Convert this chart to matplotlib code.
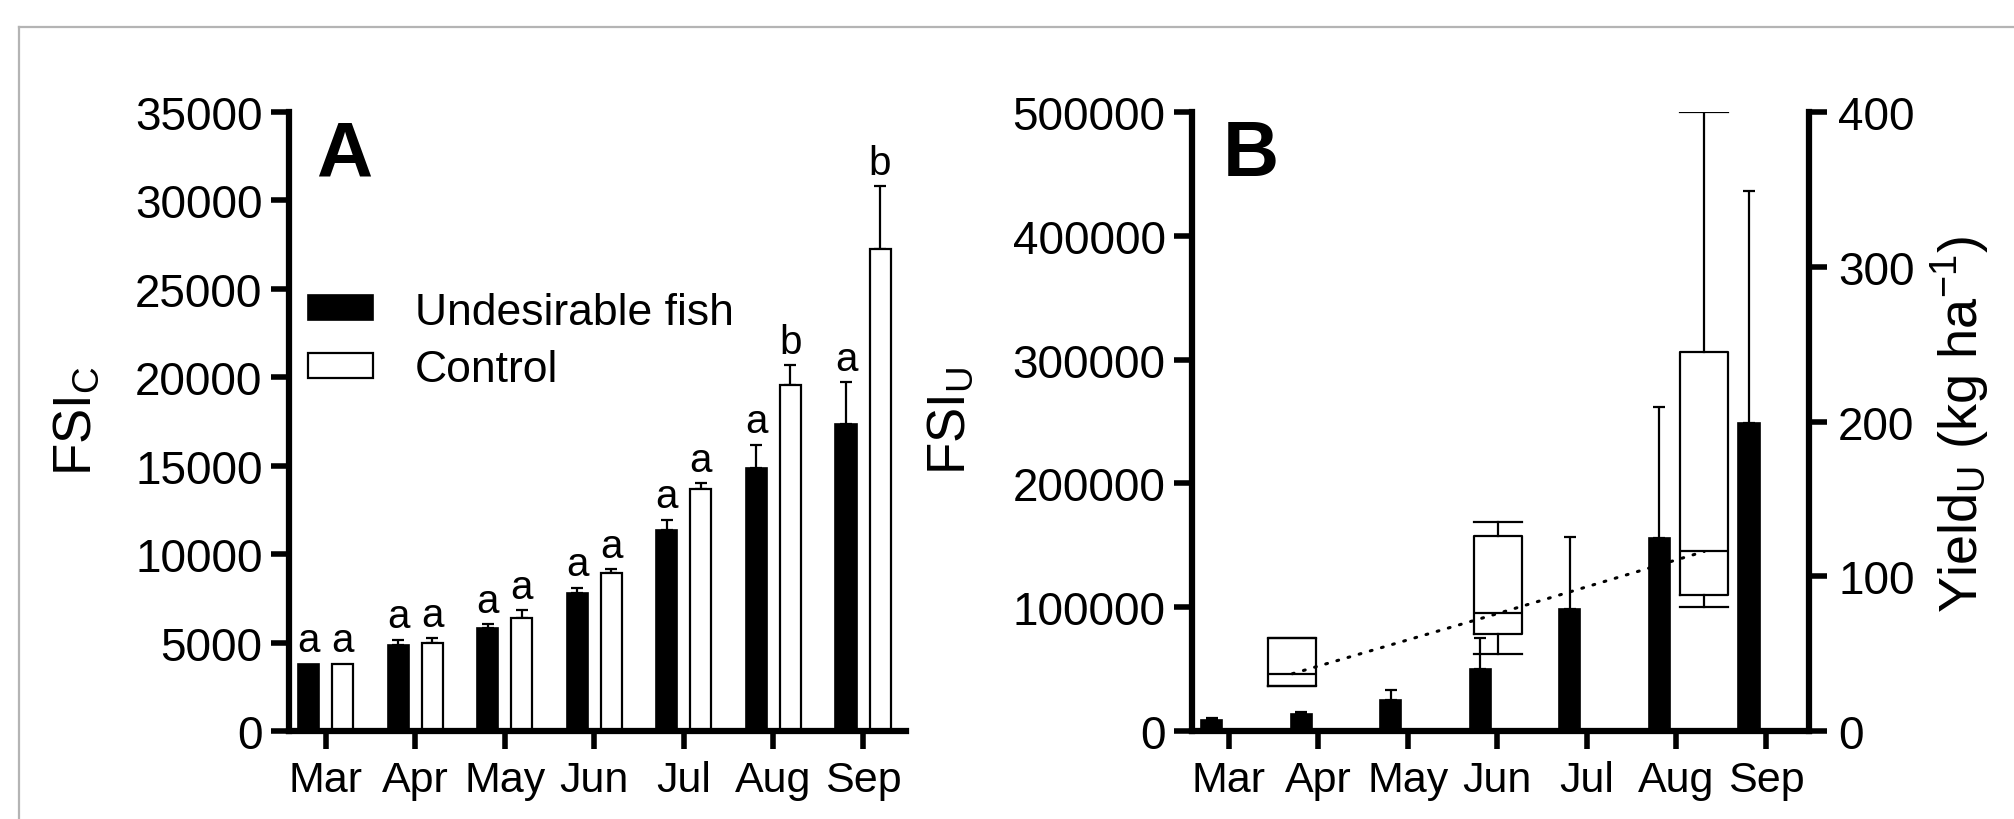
import matplotlib
matplotlib.use("Agg")
import matplotlib.pyplot as plt
from matplotlib.patches import Patch
from matplotlib.lines import Line2D
import numpy as np

plt.rcParams['font.family'] = ['Liberation Sans', 'DejaVu Sans']
plt.rcParams['mathtext.fontset'] = 'custom'
plt.rcParams['mathtext.rm'] = 'Liberation Sans'
plt.rcParams['mathtext.it'] = 'Liberation Sans:italic'
plt.rcParams['mathtext.bf'] = 'Liberation Sans:bold'

# ---------------- data ----------------
months = ["Mar", "Apr", "May", "Jun", "Jul", "Aug", "Sep"]

# Panel A: FSI_C
fsic_undesirable = [3800, 4870, 5810, 7800, 11350, 14860, 17370]
fsic_undesirable_err = [0, 280, 240, 300, 590, 1330, 2360]
fsic_control = [3800, 4950, 6370, 8950, 13710, 19560, 27270]
fsic_control_err = [0, 300, 450, 190, 300, 1120, 3540]
letters_undesirable = ["a", "a", "a", "a", "a", "a", "a"]
letters_control = ["a", "a", "a", "a", "a", "b", "b"]

# Panel B: FSI_U bars
fsiu = [9200, 13500, 24750, 50000, 98400, 156200, 248600]
fsiu_err = [1300, 2200, 8650, 24900, 58600, 105800, 187900]

# Panel B: Yield_U boxes (kg ha-1)
yield_months = ["Apr", "Jun", "Aug"]
yield_min = [29, 50, 80]
yield_q1 = [29, 63, 88]
yield_med = [37, 76, 116]
yield_q3 = [60, 126, 245]
yield_max = [60, 135, 400]

# ---------------- layout ----------------
W, H = 2014, 820
fig = plt.figure(figsize=(W / 100, H / 100), dpi=100)

def ax_rect(l, r, t, b):
    return [l / W, 1 - b / H, (r - l) / W, (b - t) / H]

axA = fig.add_axes(ax_rect(289, 906, 113, 732))
axB = fig.add_axes(ax_rect(1192, 1809, 113, 732))

SP_LW = 4.5
YTICK_FS = 33
XTICK_FS = 31
x = np.arange(len(months))
bw = 0.235
off = 0.19
XLIM = (-0.41, 6.48)

def style_axis(ax):
    for s in ["top", "right"]:
        ax.spines[s].set_visible(False)
    for s in ["left", "bottom"]:
        ax.spines[s].set_linewidth(SP_LW)
        ax.spines[s].set_capstyle('projecting')
    ax.tick_params(axis='both', which='major', length=13, width=4, direction='out')
    ax.tick_params(axis='y', pad=6, labelsize=YTICK_FS)
    ax.tick_params(axis='x', pad=8, labelsize=XTICK_FS)
    ax.set_xticks(x)
    ax.set_xticklabels(months)
    ax.set_xlim(*XLIM)

def add_err(ax, xs, ys, errs):
    xs = np.asarray(xs, float); ys = np.asarray(ys, float); errs = np.asarray(errs, float)
    m = errs > 0
    ax.errorbar(xs[m], ys[m], yerr=[np.zeros(m.sum()), errs[m]], fmt='none',
                ecolor='black', elinewidth=1.6, capsize=4.5, capthick=1.6, zorder=1)

# ---- Panel A ----
style_axis(axA)
axA.bar(x - off, fsic_undesirable, width=bw, color='black', edgecolor='black',
        linewidth=1.2, zorder=2, label="Undesirable fish")
axA.bar(x + off, fsic_control, width=bw, color='white', edgecolor='black',
        linewidth=1.6, zorder=2, label="Control")
add_err(axA, x - off, fsic_undesirable, fsic_undesirable_err)
add_err(axA, x + off, fsic_control, fsic_control_err)
for i in range(len(months)):
    axA.annotate(letters_undesirable[i], (x[i] - off, fsic_undesirable[i] + fsic_undesirable_err[i]),
                 xytext=(0, 9), textcoords='offset points', ha='center', va='baseline', fontsize=29)
    axA.annotate(letters_control[i], (x[i] + off, fsic_control[i] + fsic_control_err[i]),
                 xytext=(0, 9), textcoords='offset points', ha='center', va='baseline', fontsize=29)
axA.set_ylim(0, 35000)
axA.set_yticks(np.arange(0, 35001, 5000))
axA.text(0.044, 0.99, "A", transform=axA.transAxes, fontsize=56, fontweight='bold',
         ha='left', va='top')
handles = [Patch(facecolor='black', edgecolor='black', linewidth=1.2),
           Patch(facecolor='white', edgecolor='black', linewidth=1.6)]
axA.legend(handles, ["Undesirable fish", "Control"], loc='center left',
           bbox_to_anchor=(0.031, 0.630), frameon=False, fontsize=32,
           handlelength=1.45, handleheight=0.5, handletextpad=0.95,
           labelspacing=0.38, borderpad=0, borderaxespad=0)

# ---- Panel B ----
style_axis(axB)
axB.bar(x - off, fsiu, width=bw, color='black', edgecolor='black', linewidth=1.2, zorder=2)
add_err(axB, x - off, fsiu, fsiu_err)
axB.set_ylim(0, 500000)
axB.set_yticks(np.arange(0, 500001, 100000))
axB.text(0.050, 0.99, "B", transform=axB.transAxes, fontsize=56, fontweight='bold',
         ha='left', va='top')

axY = axB.twinx()
axY.set_ylim(0, 400)
axY.set_yticks([0, 100, 200, 300, 400])
for s in ["top", "left", "bottom"]:
    axY.spines[s].set_visible(False)
axY.spines["right"].set_linewidth(SP_LW)
axY.tick_params(axis='y', length=13, width=4, labelsize=YTICK_FS, pad=8, direction='out')
axY.set_xlim(*XLIM)

box_offsets = {"Apr": -0.29, "Jun": 0.01, "Aug": 0.31}
box_pos = [months.index(m) + box_offsets[m] for m in yield_months]
stats = []
for i in range(len(yield_months)):
    stats.append(dict(med=yield_med[i], q1=yield_q1[i], q3=yield_q3[i],
                      whislo=yield_min[i], whishi=yield_max[i], fliers=[]))
bw_box = 0.535
lp = dict(color='black', linewidth=1.6)
axY.bxp(stats, positions=box_pos, widths=bw_box, capwidths=bw_box,
        showfliers=False, manage_ticks=False,
        boxprops=lp, whiskerprops=lp, capprops=lp,
        medianprops=dict(color='black', linewidth=1.6))
axY.plot(box_pos, yield_med, color='black', linewidth=2.2, linestyle=(0, (0.6, 3.2)),
         dash_capstyle='round', zorder=3)

# ---- axis labels ----
fig.text(77 / W, 1 - 421 / H, r"FSI$_\mathrm{C}$", rotation=90, ha='center', va='center', fontsize=38)
fig.text(951 / W, 1 - 421 / H, r"FSI$_\mathrm{U}$", rotation=90, ha='center', va='center', fontsize=38)
fig.text(1961 / W, 1 - 425 / H, r"Yield$_\mathrm{U}$ (kg ha$^{-1}$)", rotation=90,
         ha='center', va='center', fontsize=39)

# ---- light frame ----
fig.add_artist(Line2D([19 / W, 1.0], [1 - 28 / H, 1 - 28 / H], transform=fig.transFigure,
                      color='#b4b4b4', linewidth=1.6))
fig.add_artist(Line2D([19 / W, 19 / W], [0.0, 1 - 28 / H], transform=fig.transFigure,
                      color='#b4b4b4', linewidth=1.6))

fig.savefig("out.png", dpi=100, facecolor='white')
